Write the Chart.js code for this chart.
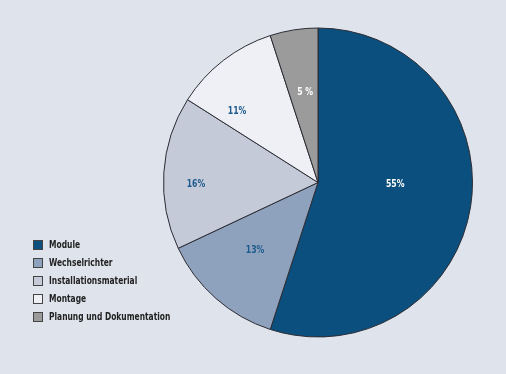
<!DOCTYPE html>
<html>
<head>
<meta charset="utf-8">
<script src="https://cdn.jsdelivr.net/npm/chart.js@4"></script>
<style>
  html, body { margin: 0; padding: 0; background: #dfe4ec; }
  .wrap { position: relative; width: 506px; height: 374px; }
  #pie { position: absolute; left: 0; top: 0; }
  #legend { position: absolute; left: 33px; top: 236px; margin: 0; padding: 0; list-style: none;
    font-family: 'DejaVu Sans Condensed', 'Liberation Sans Narrow', sans-serif; font-weight: bold;
    font-size: 11px; color: #222; }
  #legend li { height: 18px; line-height: 18px; display: flex; align-items: center; white-space: nowrap; }
  #legend .box { width: 8px; height: 8px; border: 1px solid #444; margin-right: 6px; flex: none; }
  #legend .txt { display: inline-block; transform: scaleX(0.76); transform-origin: left center; }
</style>
</head>
<body>
<div class="wrap">
  <canvas id="pie" width="506" height="374"></canvas>
  <ul id="legend"></ul>
</div>
<script>
const categories = ['Module', 'Wechselrichter', 'Installationsmaterial', 'Montage', 'Planung und Dokumentation'];
const shares = [55, 13, 16, 11, 5];
const valueLabels = ['55%', '13%', '16%', '11%', '5 %'];

const sliceColors = ['#0b4f7e', '#8fa2bd', '#c5cad9', '#eef0f5', '#9b9b9b'];
const labelColors = ['#ffffff', '#1d5b8c', '#1d5b8c', '#1d5b8c', '#ffffff'];
// where each label sits: fraction of the radius, and fraction along the slice
const labelRadius = [0.5, 0.6, 0.79, 0.7, 0.59];
const labelAlong = [0.46, 0.53, 0.42, 0.23, 0.55];

// percent labels inside the slices
const sliceLabels = {
  id: 'sliceLabels',
  afterDatasetsDraw(chart) {
    const { ctx } = chart;
    const meta = chart.getDatasetMeta(0);
    ctx.save();
    ctx.font = 'bold 10.5px "DejaVu Sans Condensed", sans-serif';
    ctx.textAlign = 'center';
    ctx.textBaseline = 'middle';
    meta.data.forEach((arc, i) => {
      const a = arc.startAngle + (arc.endAngle - arc.startAngle) * labelAlong[i];
      const r = arc.outerRadius * labelRadius[i];
      ctx.save();
      ctx.translate(arc.x + Math.cos(a) * r, arc.y + Math.sin(a) * r);
      ctx.scale(0.82, 1);
      ctx.fillStyle = labelColors[i];
      ctx.fillText(valueLabels[i], 0, 0);
      ctx.restore();
    });
    ctx.restore();
  }
};

new Chart(document.getElementById('pie'), {
  type: 'pie',
  data: {
    labels: categories,
    datasets: [{
      data: shares,
      backgroundColor: sliceColors,
      borderColor: '#2b2b33',
      borderWidth: 1
    }]
  },
  options: {
    responsive: false,
    animation: false,
    layout: { padding: { left: 163, right: 33, top: 27, bottom: 36 } },
    plugins: { legend: { display: false }, tooltip: { enabled: false } }
  },
  plugins: [sliceLabels]
});

const legend = document.getElementById('legend');
categories.forEach((name, i) => {
  const li = document.createElement('li');
  li.innerHTML = `<span class="box" style="background:${sliceColors[i]}"></span><span class="txt">${name}</span>`;
  legend.appendChild(li);
});
</script>
</body>
</html>
